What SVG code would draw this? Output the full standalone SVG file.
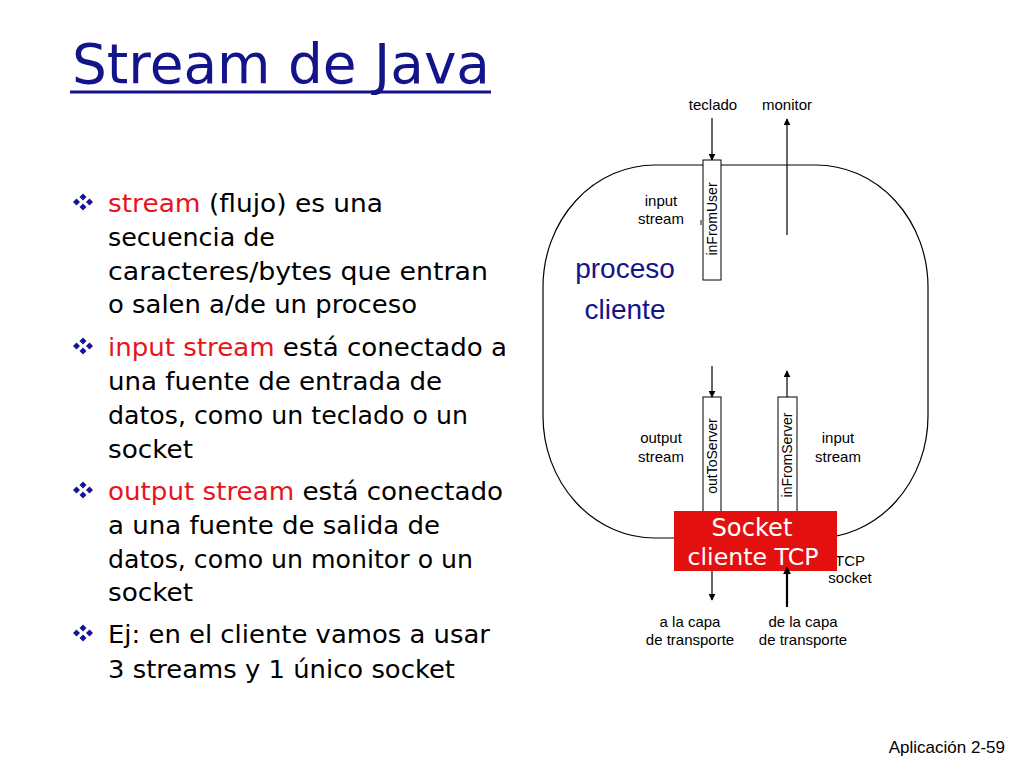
<svg xmlns="http://www.w3.org/2000/svg" width="1024" height="768" viewBox="0 0 1024 768">
<style>
.bt{font-family:"DejaVu Sans","Liberation Sans",sans-serif;font-size:24px;fill:#000}
.red{fill:#e8141c}
.lbl{font-family:"Liberation Sans",Arial,sans-serif;font-size:15px;fill:#000;text-anchor:middle}
.rot{font-family:"Liberation Sans",Arial,sans-serif;font-size:14px;fill:#000;text-anchor:middle}
.proc{font-family:"Liberation Sans",Arial,sans-serif;font-size:28px;fill:#14148a;text-anchor:middle}
.conn{stroke:#000;stroke-width:1.2;fill:none}
.box{fill:#fff;stroke:#000;stroke-width:1}
</style>
<defs>
<marker id="ah" viewBox="0 0 10 10" refX="9" refY="5" markerWidth="7" markerHeight="7" markerUnits="userSpaceOnUse" orient="auto">
<path d="M0,0 L10,5 L0,10 z" fill="#000"/>
</marker>
<marker id="ah2" viewBox="0 0 10 10" refX="9" refY="5" markerWidth="8" markerHeight="8" markerUnits="userSpaceOnUse" orient="auto">
<path d="M0,0 L10,5 L0,10 z" fill="#000"/>
</marker>
<g id="bullet" fill="#14149a">
<path d="M0,-8.5 L3.5,-5 L0,-1.5 L-3.5,-5 z"/>
<path d="M0,1.5 L3.5,5 L0,8.5 L-3.5,5 z"/>
<path d="M-6.5,-3.5 L-3,0 L-6.5,3.5 L-10,0 z"/>
<path d="M6.5,-3.5 L10,0 L6.5,3.5 L3,0 z"/>
</g>
</defs>
<rect width="1024" height="768" fill="#fff"/>

<g id="title">
<text x="72" y="83" font-family="DejaVu Sans,Liberation Sans,sans-serif" font-size="55" fill="#14148a" textLength="418" lengthAdjust="spacingAndGlyphs">Stream de Java</text>
<line x1="70" y1="92" x2="491" y2="92" stroke="#14148a" stroke-width="3"/>
</g>

<g id="bullets">
<use href="#bullet" x="83" y="202"/>
<use href="#bullet" x="83" y="346"/>
<use href="#bullet" x="83" y="490"/>
<use href="#bullet" x="83" y="633"/>
<text class="bt" x="108" y="212" textLength="275" lengthAdjust="spacingAndGlyphs"><tspan class="red">stream</tspan> (flujo) es una</text>
<text class="bt" x="108" y="246" textLength="167" lengthAdjust="spacingAndGlyphs">secuencia de</text>
<text class="bt" x="108" y="280" textLength="380" lengthAdjust="spacingAndGlyphs">caracteres/bytes que entran</text>
<text class="bt" x="108" y="313" textLength="309" lengthAdjust="spacingAndGlyphs">o salen a/de un proceso</text>
<text class="bt" x="108" y="356" textLength="399" lengthAdjust="spacingAndGlyphs"><tspan class="red">input stream</tspan> está conectado a</text>
<text class="bt" x="108" y="390" textLength="334" lengthAdjust="spacingAndGlyphs">una fuente de entrada de</text>
<text class="bt" x="108" y="424" textLength="360" lengthAdjust="spacingAndGlyphs">datos, como un teclado o un</text>
<text class="bt" x="108" y="458" textLength="85" lengthAdjust="spacingAndGlyphs">socket</text>
<text class="bt" x="108" y="500" textLength="395" lengthAdjust="spacingAndGlyphs"><tspan class="red">output stream</tspan> está conectado</text>
<text class="bt" x="108" y="534" textLength="332" lengthAdjust="spacingAndGlyphs">a una fuente de salida de</text>
<text class="bt" x="108" y="568" textLength="365" lengthAdjust="spacingAndGlyphs">datos, como un monitor o un</text>
<text class="bt" x="108" y="601" textLength="85" lengthAdjust="spacingAndGlyphs">socket</text>
<text class="bt" x="108" y="643" textLength="382" lengthAdjust="spacingAndGlyphs">Ej: en el cliente vamos a usar</text>
<text class="bt" x="108" y="678" textLength="347" lengthAdjust="spacingAndGlyphs">3 streams y 1 único socket</text>
</g>

<g id="process">
<rect x="543" y="165" width="385" height="373" rx="112" ry="122" fill="none" stroke="#000" stroke-width="1.2"/>
<text class="proc" x="625" y="278">proceso</text>
<text class="proc" x="625" y="319">cliente</text>
</g>

<g id="labels">
<text class="lbl" x="713" y="110">teclado</text>
<text class="lbl" x="787" y="110">monitor</text>
<text class="lbl" x="661" y="206">input</text>
<text class="lbl" x="661" y="224">stream</text>
<text class="lbl" x="661" y="443">output</text>
<text class="lbl" x="661" y="462">stream</text>
<text class="lbl" x="838" y="443">input</text>
<text class="lbl" x="838" y="462">stream</text>
<text class="lbl" x="690" y="627">a la capa</text>
<text class="lbl" x="690" y="645">de transporte</text>
<text class="lbl" x="803" y="627">de la capa</text>
<text class="lbl" x="803" y="645">de transporte</text>
<text class="lbl" x="850" y="566">TCP</text>
<text class="lbl" x="850" y="583">socket</text>
<text x="1005" y="753" font-family="Liberation Sans,Arial,sans-serif" font-size="17" text-anchor="end">Aplicación  2-59</text>
</g>

<g id="inFromUser">
<rect class="box" x="703" y="160" width="18" height="120"/>
<text class="rot" transform="translate(717,219) rotate(-90)">inFromUser</text>
<rect x="700" y="220" width="3" height="5" fill="#888"/>
</g>
<g id="outToServer">
<rect class="box" x="703" y="397" width="18" height="120"/>
<text class="rot" transform="translate(717,456) rotate(-90)">outToServer</text>
</g>
<g id="inFromServer">
<rect class="box" x="778" y="397" width="19" height="120"/>
<text class="rot" transform="translate(792,455) rotate(-90)">inFromServer</text>
</g>

<g id="socket">
<rect x="674" y="511" width="163" height="60" fill="#e41010"/>
<text x="752" y="536" font-family="DejaVu Sans,Liberation Sans,sans-serif" font-size="24" fill="#fff" text-anchor="middle" textLength="81" lengthAdjust="spacingAndGlyphs">Socket</text>
<text x="753" y="565" font-family="DejaVu Sans,Liberation Sans,sans-serif" font-size="23" fill="#fff" text-anchor="middle" textLength="131" lengthAdjust="spacingAndGlyphs">cliente TCP</text>
</g>

<g id="connectors">
<line class="conn" x1="712" y1="118" x2="712" y2="160" marker-end="url(#ah)"/>
<line class="conn" x1="787" y1="235" x2="787" y2="119" marker-end="url(#ah)"/>
<line class="conn" x1="712" y1="366" x2="712" y2="397" marker-end="url(#ah)"/>
<line class="conn" x1="787" y1="397" x2="787" y2="371" marker-end="url(#ah)"/>
<line class="conn" x1="712" y1="571" x2="712" y2="600" marker-end="url(#ah)"/>
<line x1="787" y1="607" x2="787" y2="567" stroke="#000" stroke-width="2.2" marker-end="url(#ah2)"/>
</g>
</svg>
